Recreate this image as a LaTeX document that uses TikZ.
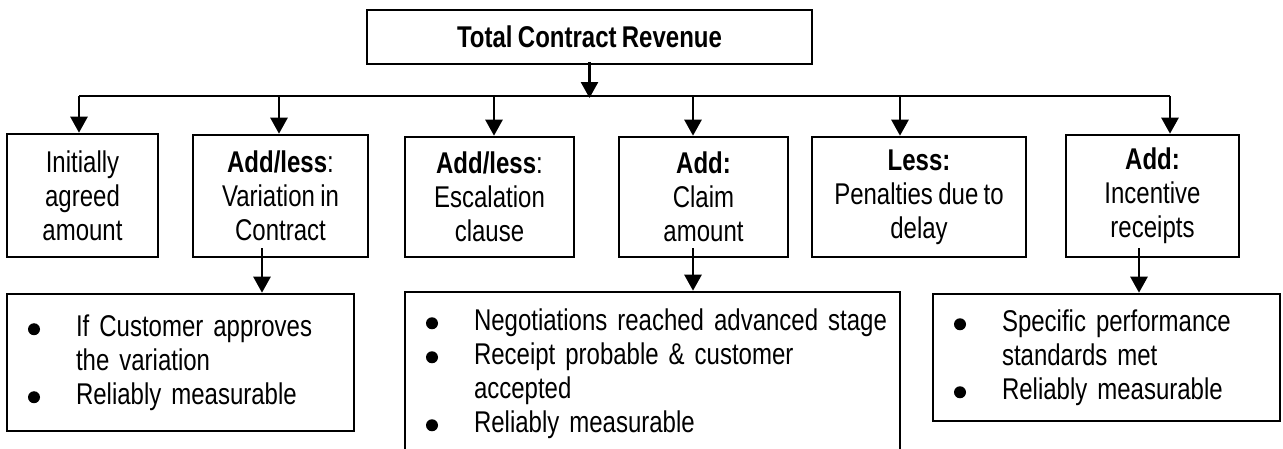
\documentclass[tikz,border=0pt]{standalone}
\usepackage{fontspec}
\setmainfont{Liberation Sans}[FakeStretch=0.8,WordSpace=0.8]
\usetikzlibrary{arrows.meta,calc}
\tikzset{
  box/.style={draw, line width=2.6pt, inner sep=0pt, font=\fontsize{30}{34}\selectfont, align=center},
  lbox/.style={box, align=left, inner xsep=21pt},
  arr/.style={line width=2.6pt, -{Triangle[width=17pt,length=16pt]}},
  busline/.style={line width=2.6pt},
}
\newcommand\bdot{\tikz[baseline=0pt]\fill (6pt,7pt) circle[radius=6pt];}
\newcommand\bitem[1]{\mbox{\makebox[48pt][l]{\bdot}#1}}
\newcommand\bcont[1]{\mbox{\hspace*{48pt}#1}}
\begin{document}
\begin{tikzpicture}[x=1pt,y=-1pt]
\useasboundingbox (0,0) rectangle (1283,448);
% top
\node[box, minimum width=445pt, minimum height=54pt] (top) at (589.5,37) {\textbf{Total Contract Revenue}};
% row 1
\node[box, minimum width=151pt, minimum height=123pt] (b1) at (82.5,195.5) {Initially\\agreed\\amount};
\node[box, minimum width=175pt, minimum height=122pt] (b2) at (280.5,196) {\textbf{Add/less}:\\Variation in\\Contract};
\node[box, minimum width=169pt, minimum height=120pt] (b3) at (489.5,197) {\textbf{Add/less}:\\Escalation\\clause};
\node[box, minimum width=169pt, minimum height=120pt] (b4) at (703.5,197) {\textbf{Add:}\\Claim\\amount};
\node[box, minimum width=214pt, minimum height=120pt] (b5) at (919,197) {\textbf{Less:}\\Penalties due to\\delay};
\node[box, minimum width=173pt, minimum height=122pt] (b6) at (1152.5,196) {\textbf{Add:}\\Incentive\\receipts};
% row 2
\node[lbox, text width=305pt, minimum height=137pt] (A) at (180.5,362.5)
  {\bitem{If Customer approves}\\\bcont{the variation}\\\bitem{Reliably measurable}};
\node[lbox, text width=453pt, minimum height=163pt] (B) at (652.5,373.5)
  {\bitem{Negotiations reached advanced stage}\\\bitem{Receipt probable \& customer}\\\bcont{accepted}\\\bitem{Reliably measurable}};
\node[lbox, text width=305pt, minimum height=127pt] (C) at (1106.5,357.5)
  {\bitem{Specific performance}\\\bcont{standards met}\\\bitem{Reliably measurable}};
% bus
\coordinate (d1) at (79,96);
\coordinate (d2) at (279,96);
\coordinate (d3) at (494,96);
\coordinate (d4) at (693,96);
\coordinate (d5) at (900,96);
\coordinate (d6) at (1170,96);
\draw[busline] (d1) -- (d6);
\draw[arr] ($(top.south)+(0,-3)$) -- ($(top.south |- d1)+(0,2)$);
\foreach \i in {1,...,6} {\draw[arr] (d\i) -- (d\i |- b\i.north);}
% down arrows
\coordinate (e2) at (262,0);
\coordinate (e4) at (693,0);
\coordinate (e6) at (1139,0);
\draw[arr] ($(e2 |- b2.south)+(0,-10)$) -- (e2 |- A.north);
\draw[arr] ($(e4 |- b4.south)+(0,-10)$) -- (e4 |- B.north);
\draw[arr] ($(e6 |- b6.south)+(0,-10)$) -- (e6 |- C.north);
\end{tikzpicture}
\end{document}
